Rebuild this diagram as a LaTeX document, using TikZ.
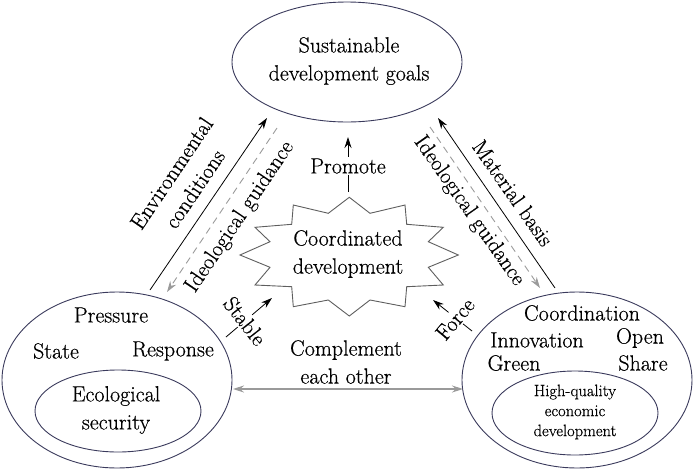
\documentclass[tikz,border=0pt]{standalone}
\usepackage{fontspec}
\setmainfont{Latin Modern Roman}[FakeBold=0.5]
\usetikzlibrary{arrows.meta,shapes.geometric}
\definecolor{ellcol}{HTML}{3A3A5C}
\definecolor{starcol}{HTML}{5E5E5E}
\definecolor{garrcol}{HTML}{9A9A9A}
\begin{document}
\begin{tikzpicture}[x=1pt,y=-1pt,
  ell/.style={ellipse, draw=ellcol, line width=0.9pt, inner sep=0pt},
  txt/.style={font=\fontsize{22}{28}\selectfont, align=center, inner sep=1pt},
  smalltxt/.style={font=\fontsize{16.5}{20}\selectfont, align=center, inner sep=1pt},
  lbl/.style={txt, fill=white, inner sep=1.5pt},
  arr/.style={-{Stealth[length=11pt,width=7pt]}, line width=0.8pt, black},
  garr/.style={-{Stealth[length=11pt,width=7pt]}, line width=0.9pt, garrcol, dash pattern=on 7pt off 5pt},
  darr/.style={{Stealth[length=11pt,width=7pt]}-{Stealth[length=11pt,width=7pt]}, line width=1.1pt, garrcol},
  starline/.style={draw=starcol, line width=0.9pt}
]
\useasboundingbox (0,0) rectangle (694,469);

% ellipses
\node[ell, minimum width=230pt, minimum height=120pt] (T) at (347,62) {};
\node[ell, minimum width=230pt, minimum height=176pt] (L) at (117,380) {};
\node[ell, minimum width=166pt, minimum height=82pt] (Li) at (118,411) {};
\node[ell, minimum width=230pt, minimum height=176pt] (R) at (577,380) {};
\node[ell, minimum width=166pt, minimum height=84pt] (Ri) at (575,413) {};

% texts in ellipses
\node[txt] (Tt) at (349,61) {Sustainable\\development goals};
\node[txt] (Lp) at (111,315) {Pressure};
\node[txt] (Ls) at (56,351) {State};
\node[txt] (Lr) at (173,351) {Response};
\node[txt] (Lit) at (116,410) {Ecological\\security};
\node[txt] (Rc) at (582,313) {Coordination};
\node[txt] (Ri1) at (537,340) {Innovation};
\node[txt] (Ro) at (640,338) {Open};
\node[txt] (Rg) at (514,363) {Green};
\node[txt] (Rs) at (643,363) {Share};
\node[smalltxt] (Rit) at (575,412) {High-quality\\economic\\development};

% star
\draw[starline] (349.3,197.3) -- (370,213.3) -- (405,205) -- (406.7,224.3)
  -- (443.3,227.3) -- (428.3,241.7) -- (458.3,255) -- (428.3,267.3)
  -- (443.3,285) -- (406.7,286.7) -- (405,306.7) -- (370,300)
  -- (349.3,316) -- (328.3,300) -- (293.3,306.7) -- (291.7,286.7)
  -- (255,285) -- (270,267.3) -- (240,255) -- (270,241.7)
  -- (255,227.3) -- (291.7,224.3) -- (293.3,205) -- (328.3,213.3) -- cycle;
\node[txt] (S) at (348,254) {Coordinated\\development};

% coordinates for connector ends
\coordinate (Ls1) at (150,290);
\coordinate (Ts1) at (267,118);
\coordinate (Ts2) at (277,128);
\coordinate (Ld2) at (167,292);
\coordinate (Rs1) at (555,288);
\coordinate (Ts3) at (438,118);
\coordinate (Ts4) at (430,127);
\coordinate (Rd2) at (540,288);
\coordinate (Sp) at (348,192);
\coordinate (Tp) at (348,137);
\coordinate (Lst) at (226,337);
\coordinate (Sst) at (272,298);
\coordinate (Rfo) at (472,331);
\coordinate (Sfo) at (433,300);
\coordinate (Lc) at (233,389);
\coordinate (Rc2) at (463,389);

% diagonal connectors
\draw[arr] (Ls1) -- (Ts1);
\draw[garr] (Ts2) -- (Ld2);
\draw[arr] (Rs1) -- (Ts3);
\draw[garr] (Ts4) -- (Rd2);

\node[txt, rotate=56] (envl) at (183,181) {Environmental\\conditions};
\node[txt, rotate=56] (ig1) at (240,217) {Ideological guidance};
\node[txt, rotate=-55] (mb) at (513,193) {Material basis};
\node[txt, rotate=-55] (ig2) at (469,211) {Ideological guidance};

% promote, stable, force
\draw[arr] (Sp) -- (Tp);
\node[lbl] (pro) at (348,166) {Promote};
\draw[arr] (Lst) -- (Sst);
\node[lbl, rotate=-52] (sta) at (245,321) {Stable};
\draw[arr] (Rfo) -- (Sfo);
\node[lbl, rotate=50] (for) at (455,319) {Force};

% complement
\draw[darr] (Lc) -- (Rc2);
\node[txt] (comp) at (346,362) {Complement\\each other};

\end{tikzpicture}
\end{document}
